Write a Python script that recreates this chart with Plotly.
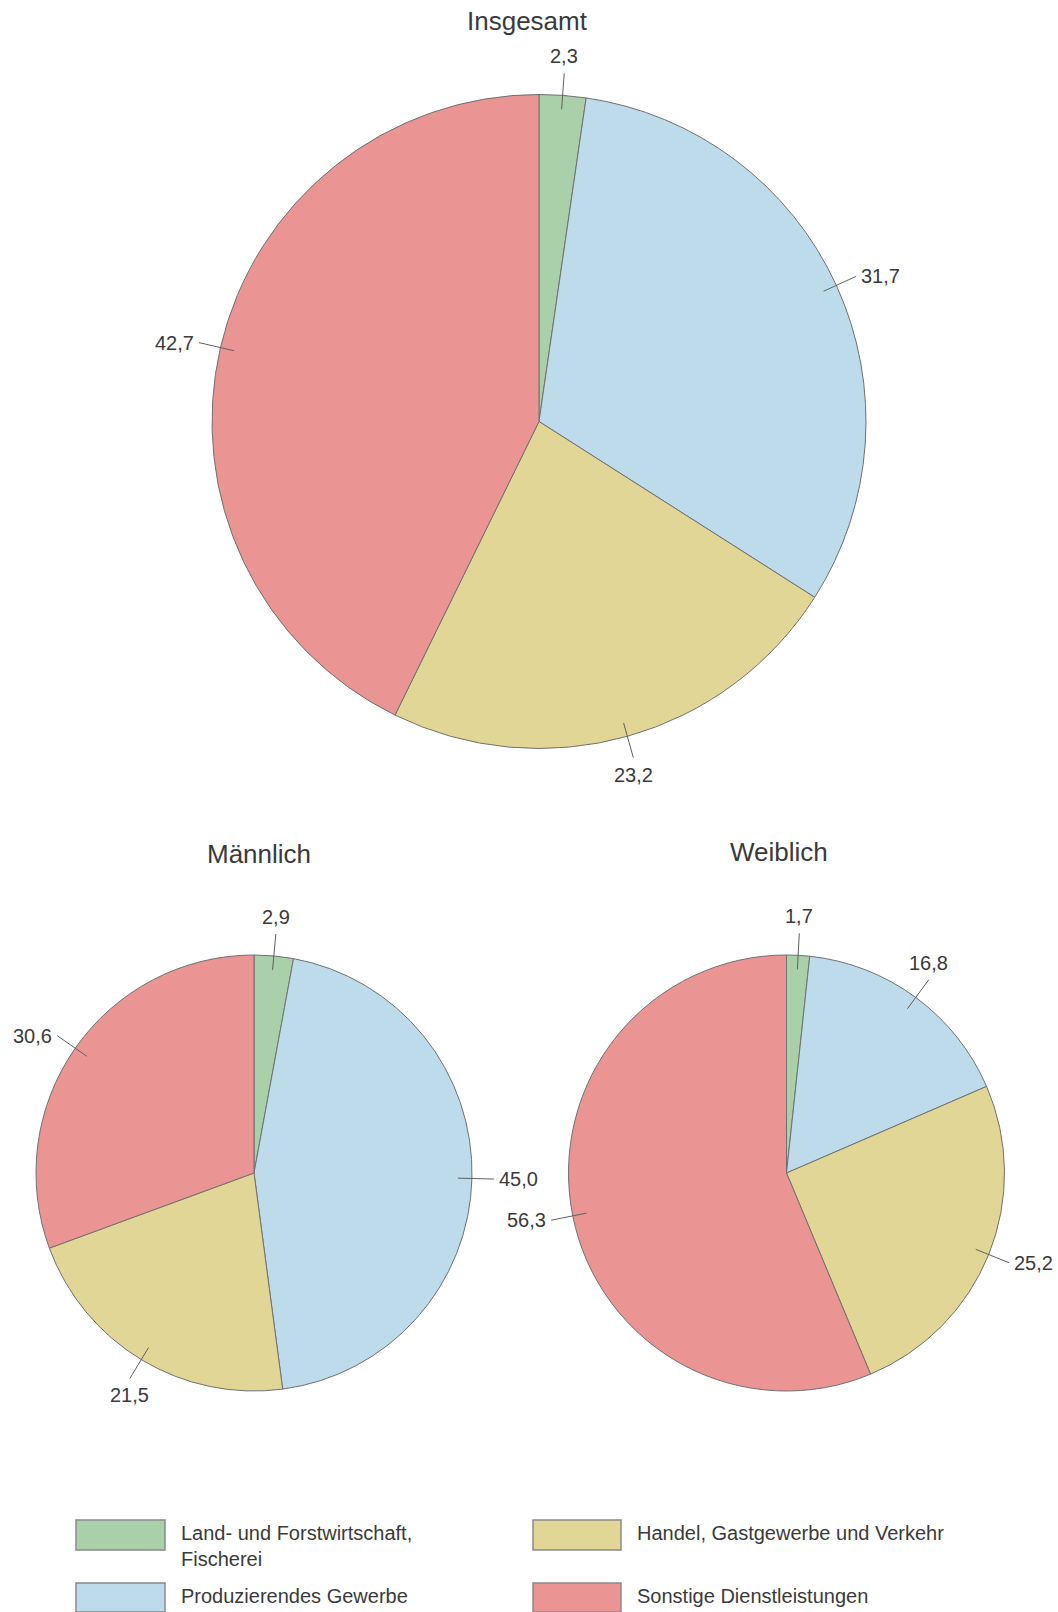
import math
import plotly.graph_objects as go

# Erwerbstätige nach Wirtschaftsbereichen (Anteile in %)
categories = [
    "Land- und Forstwirtschaft,<br>Fischerei",
    "Produzierendes Gewerbe",
    "Handel, Gastgewerbe und Verkehr",
    "Sonstige Dienstleistungen",
]
insgesamt = [2.3, 31.7, 23.2, 42.7]
maennlich = [2.9, 45.0, 21.5, 30.6]
weiblich = [1.7, 16.8, 25.2, 56.3]
titles = ["Insgesamt", "Männlich", "Weiblich"]

colors = ["#A9D0A8", "#BEDBEC", "#E2D696", "#EA9594"]

W, H = 1058, 1612
FONT = "Liberation Sans, Arial, sans-serif"
TXT = "#3a3a3a"

# pie geometry in pixels: (centre x, centre y, radius), title position
pies = [
    (insgesamt, (539, 421.5, 327), (527, 21)),
    (maennlich, (254, 1173, 218), (259, 854)),
    (weiblich, (786.5, 1173, 218), (779, 852)),
]


def px(x):
    return x / W


def py(y):
    return 1 - y / H


def fmt(v):
    return f"{v:.1f}".replace(".", ",")


fig = go.Figure()
shapes = []
annotations = []

for title, (values, (cx, cy, r), (tx, ty)) in zip(titles, pies):
    fig.add_trace(go.Pie(
        values=values,
        labels=[c.replace("<br>", " ") for c in categories],
        sort=False,
        direction="clockwise",
        rotation=0,
        textinfo="none",
        hoverinfo="label+value",
        marker=dict(colors=colors, line=dict(color="#707070", width=1)),
        domain=dict(x=[px(cx - r), px(cx + r)], y=[py(cy + r), py(cy - r)]),
        showlegend=False,
    ))

    # leader lines and value labels at each slice's mid-angle
    total = sum(values)
    cum = 0.0
    for v in values:
        theta = 2 * math.pi * (cum + v / 2) / total
        cum += v
        s, c = math.sin(theta), math.cos(theta)
        r_in, r_out = r - 14, r + 22
        x0, y0 = cx + r_in * s, cy - r_in * c
        x1, y1 = cx + r_out * s, cy - r_out * c
        shapes.append(dict(
            type="line", xref="paper", yref="paper",
            x0=px(x0), y0=py(y0), x1=px(x1), y1=py(y1),
            line=dict(color="#606060", width=1),
        ))
        if abs(s) > 0.7:
            xa = "left" if s > 0 else "right"
            ya = "middle"
            xs, ys = (3 if s > 0 else -3), 0
        else:
            xa = "center"
            ya = "bottom" if c > 0 else "top"
            xs, ys = 0, (4 if c > 0 else -4)
        annotations.append(dict(
            x=px(x1), y=py(y1), xref="paper", yref="paper",
            text=fmt(v), showarrow=False, xanchor=xa, yanchor=ya,
            xshift=xs, yshift=ys,
            font=dict(family=FONT, size=20, color=TXT),
        ))

    annotations.append(dict(
        x=px(tx), y=py(ty), xref="paper", yref="paper",
        text=title, showarrow=False, xanchor="center", yanchor="middle",
        font=dict(family=FONT, size=26, color=TXT),
    ))

# legend: two columns of wide colour boxes with text
legend_cols = [(76, 165, 179), (533, 621, 635)]
legend_rows = [(1520, 1550), (1583, 1612)]
order = [(0, 0), (1, 0), (0, 1), (1, 1)]  # (row, col) per category
for i, cat in enumerate(categories):
    row, col = order[i]
    bx0, bx1, tx = legend_cols[col]
    by0, by1 = legend_rows[row]
    shapes.append(dict(
        type="rect", xref="paper", yref="paper",
        x0=px(bx0), x1=px(bx1), y0=py(by1), y1=py(by0),
        fillcolor=colors[i], line=dict(color="#8a8a8a", width=1.5),
    ))
    n_lines = cat.count("<br>") + 1
    first_centre = (by0 + by1) / 2 - 2
    annotations.append(dict(
        x=px(tx), y=py(first_centre + (n_lines - 1) * 12.5),
        xref="paper", yref="paper", text=cat, showarrow=False,
        xanchor="left", yanchor="middle", align="left",
        font=dict(family=FONT, size=20, color=TXT),
    ))

fig.update_layout(
    width=W, height=H,
    margin=dict(l=0, r=0, t=0, b=0),
    paper_bgcolor="white", plot_bgcolor="white",
    shapes=shapes, annotations=annotations,
    showlegend=False,
)

fig.write_html("out.html")
